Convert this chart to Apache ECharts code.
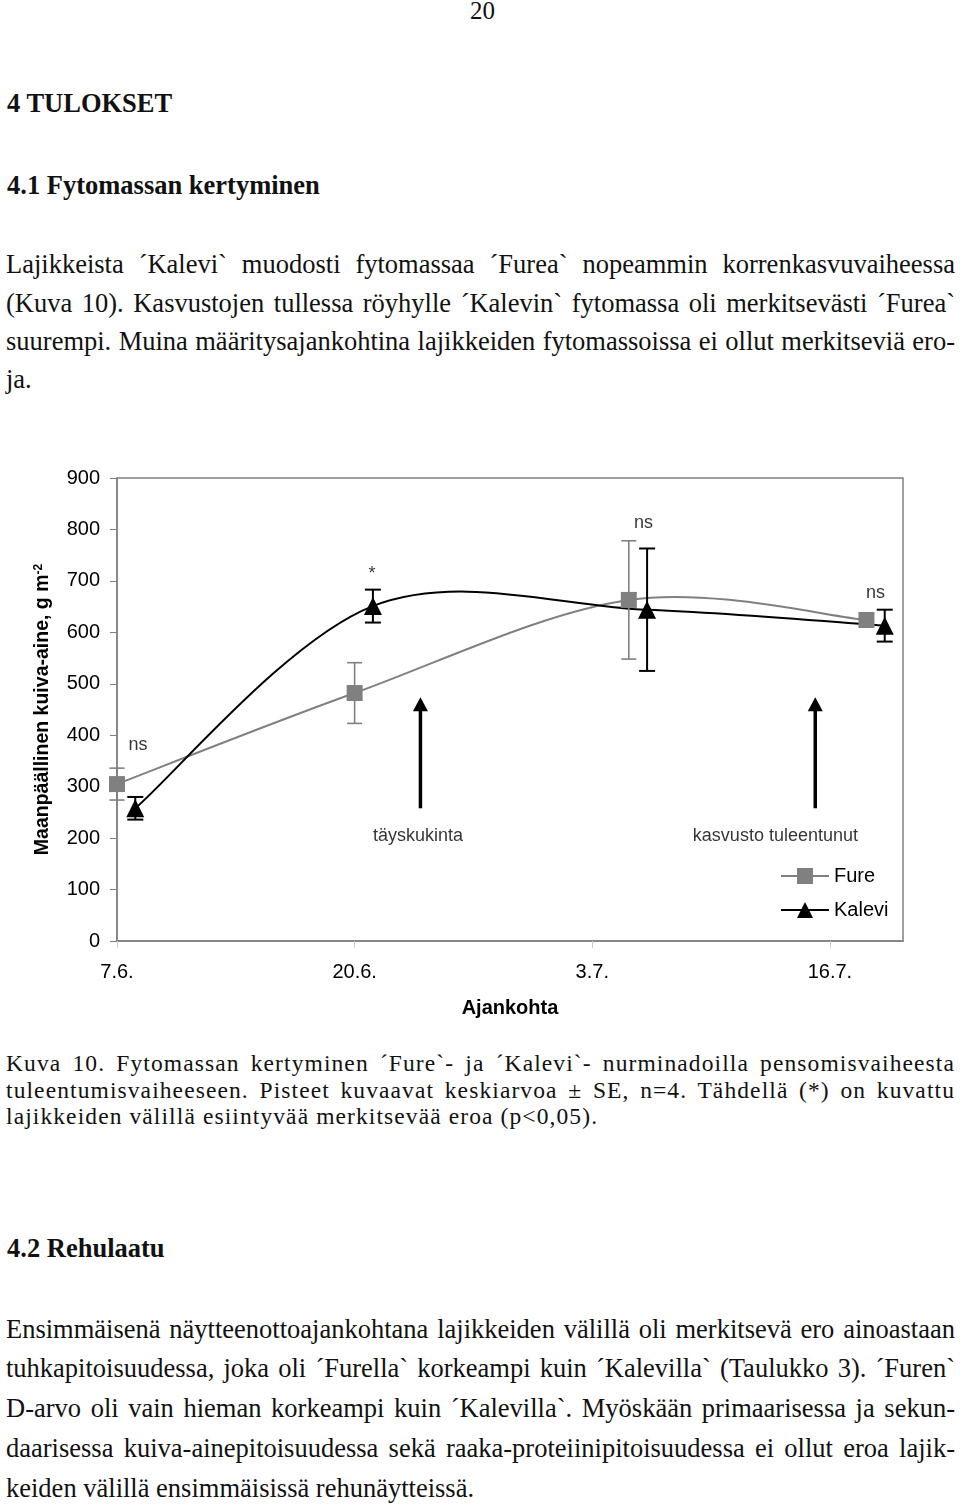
<!DOCTYPE html>
<html>
<head>
<meta charset="utf-8">
<script src="https://cdn.jsdelivr.net/npm/echarts@6/dist/echarts.min.js"></script>
<style>
  html, body { margin: 0; padding: 0; background: #fff; }
  body { width: 960px; height: 1506px; position: relative; overflow: hidden; color: #111; }
  #chart { position: absolute; left: 0; top: 440px; width: 960px; height: 600px; }
</style>
</head>
<body>
<div id="chart"></div>
<script>
// ---------------- data ----------------
const tickDays   = [0, 13, 26, 39];
const tickLabels = ['7.6.', '20.6.', '3.7.', '16.7.'];

const fureDays   = [0, 13, 28, 41];
const fureMean   = [305, 482, 663, 624];
const fureSE     = [31, 59, 115, 8];

const kaleviDays = [1, 14, 29, 42];
const kaleviMean = [258, 651, 644, 613];
const kaleviSE   = [22, 32, 119, 31];

const noteX    = [1.15, 13.95, 28.8, 41.5, 16.47, 36.02];
const noteY    = [381, 713, 812, 676, 204, 204];
const noteText = ['ns', '*', 'ns', 'ns', 'täyskukinta', 'kasvusto tuleentunut'];

const arrowDays = [16.6, 38.2];
const arrowFrom = [258, 258];
const arrowTo   = [474, 474];

// ---------------- document text ----------------
const SERIF = '"Liberation Serif", "Times New Roman", serif';
const SANS = '"Liberation Sans", Arial, sans-serif';

function placeLine(text, o) {
  const d = document.createElement('div');
  d.textContent = text;
  Object.assign(d.style, {
    position: 'absolute', left: o.left + 'px',
    top: (o.baseline - 0.8375 * o.fs) + 'px',
    fontSize: o.fs + 'px', lineHeight: o.fs + 'px',
    fontWeight: o.bold ? 'bold' : 'normal',
    whiteSpace: 'nowrap', letterSpacing: (o.ls || 0) + 'px',
    fontFamily: SERIF, color: '#111'
  });
  document.body.appendChild(d);
  if (o.width) {
    const nat = d.getBoundingClientRect().width;
    if (nat > o.width) {
      d.style.transformOrigin = '0 0';
      d.style.transform = 'scaleX(' + (o.width / nat) + ')';
    } else if (o.justify) {
      d.style.whiteSpace = 'normal';
      d.style.width = o.width + 'px';
      d.style.textAlign = 'justify';
      d.style.textAlignLast = 'justify';
    }
  }
}

placeLine('20', {left: 470, baseline: 19, fs: 25});
placeLine('4 TULOKSET', {left: 7, baseline: 112, fs: 26.5, bold: true});
placeLine('4.1 Fytomassan kertyminen', {left: 7, baseline: 194, fs: 26.5, bold: true});

const p1 = [
  'Lajikkeista ´Kalevi` muodosti fytomassaa ´Furea` nopeammin korrenkasvuvaiheessa',
  '(Kuva 10). Kasvustojen tullessa röyhylle ´Kalevin` fytomassa oli merkitsevästi ´Furea`',
  'suurempi. Muina määritysajankohtina lajikkeiden fytomassoissa ei ollut merkitseviä ero-',
  'ja.'
];
const p1Base = [273.3, 311.7, 350, 388.3];
p1.forEach((t, i) => placeLine(t, {left: 6, baseline: p1Base[i], fs: 26.5,
  width: 949, justify: i < p1.length - 1}));

const cap = [
  'Kuva 10. Fytomassan kertyminen ´Fure`- ja ´Kalevi`- nurminadoilla pensomisvaiheesta',
  'tuleentumisvaiheeseen. Pisteet kuvaavat keskiarvoa ± SE, n=4. Tähdellä (*) on kuvattu',
  'lajikkeiden välillä esiintyvää merkitsevää eroa (p<0,05).'
];
const capBase = [1071.7, 1098.3, 1125];
cap.forEach((t, i) => placeLine(t, {left: 6, baseline: capBase[i], fs: 23.5, ls: 1.1,
  width: i < 2 ? 949 : 606, justify: i < 2}));

placeLine('4.2 Rehulaatu', {left: 7, baseline: 1256.7, fs: 26.5, bold: true});

const p2 = [
  'Ensimmäisenä näytteenottoajankohtana lajikkeiden välillä oli merkitsevä ero ainoastaan',
  'tuhkapitoisuudessa, joka oli ´Furella` korkeampi kuin ´Kalevilla` (Taulukko 3). ´Furen`',
  'D-arvo oli vain hieman korkeampi kuin ´Kalevilla`. Myöskään primaarisessa ja sekun-',
  'daarisessa kuiva-ainepitoisuudessa sekä raaka-proteiinipitoisuudessa ei ollut eroa lajik-',
  'keiden välillä ensimmäisissä rehunäytteissä.'
];
const p2Base = [1338.3, 1376.7, 1416.7, 1456.7, 1496.7];
p2.forEach((t, i) => placeLine(t, {left: 6, baseline: p2Base[i], fs: 26.5,
  width: i < p2.length - 1 ? 949 : 475, justify: i < p2.length - 1}));

// ---------------- chart ----------------
const chart = echarts.init(document.getElementById('chart'), null, {renderer: 'canvas'});

function zip3(a, b, c) { return a.map((v, i) => [v, b[i], c[i]]); }

function errRender(color, capW, lw) {
  return function (params, api) {
    const x = api.value(0), y = api.value(1), e = api.value(2);
    const t = api.coord([x, y + e]), b = api.coord([x, y - e]);
    const h = capW / 2;
    const st = {stroke: color, lineWidth: lw};
    return {type: 'group', children: [
      {type: 'line', shape: {x1: t[0], y1: t[1], x2: b[0], y2: b[1]}, style: st},
      {type: 'line', shape: {x1: t[0] - h, y1: t[1], x2: t[0] + h, y2: t[1]}, style: st},
      {type: 'line', shape: {x1: b[0] - h, y1: b[1], x2: b[0] + h, y2: b[1]}, style: st}
    ]};
  };
}

// Spreadsheet-style smoothed line (Catmull-Rom Bezier, tension 1/6), one segment per point
function curveRender(days, vals, color, lw) {
  return function (params, api) {
    const i = params.dataIndex, n = days.length;
    if (i >= n - 1) return null;
    const P = j => api.coord([days[Math.max(0, Math.min(n - 1, j))], vals[Math.max(0, Math.min(n - 1, j))]]);
    const p0 = P(i - 1), p1 = P(i), p2 = P(i + 1), p3 = P(i + 2);
    const k = 1 / 6;
    return {
      type: 'bezierCurve',
      shape: {
        x1: p1[0], y1: p1[1], x2: p2[0], y2: p2[1],
        cpx1: p1[0] + (p2[0] - p0[0]) * k, cpy1: p1[1] + (p2[1] - p0[1]) * k,
        cpx2: p2[0] - (p3[0] - p1[0]) * k, cpy2: p2[1] - (p3[1] - p1[1]) * k
      },
      style: {stroke: color, lineWidth: lw, fill: null}
    };
  };
}

const axisGray = '#808080';

chart.setOption({
  animation: false,
  textStyle: {fontFamily: SANS},
  grid: {left: 117, right: 57, top: 38, bottom: 99, show: true,
         borderColor: axisGray, borderWidth: 1.5, backgroundColor: 'transparent'},
  legend: {
    data: [
      {name: 'Fure', lineStyle: {opacity: 1, width: 2, color: axisGray}},
      {name: 'Kalevi', lineStyle: {opacity: 1, width: 2, color: '#000'}}
    ],
    orient: 'vertical', left: 775, top: 421,
    itemWidth: 48, itemHeight: 20, itemGap: 14,
    textStyle: {fontSize: 20, color: '#000', fontFamily: SANS}
  },
  xAxis: {
    type: 'value', min: 0, max: 43, interval: 13,
    name: 'Ajankohta', nameLocation: 'middle', nameGap: 57,
    nameTextStyle: {fontSize: 20, fontWeight: 'bold', color: '#000', fontFamily: SANS},
    axisLine: {show: true, lineStyle: {color: axisGray, width: 1.5}},
    axisTick: {show: true, length: 7, lineStyle: {color: '#c8c8c8', width: 1}, customValues: tickDays},
    axisLabel: {fontSize: 20, color: '#000', margin: 21, fontFamily: SANS,
      customValues: tickDays,
      formatter: v => { const i = tickDays.indexOf(v); return i >= 0 ? tickLabels[i] : ''; }},
    splitLine: {show: false}
  },
  yAxis: {
    type: 'value', min: 0, max: 900, interval: 100,
    name: 'Maanpäällinen kuiva-aine, g m{s|-2}', nameLocation: 'middle', nameGap: 64, nameRotate: 90,
    nameTextStyle: {fontSize: 19.5, fontWeight: 'bold', color: '#000', fontFamily: SANS,
      rich: {s: {fontSize: 12, fontWeight: 'bold', color: '#000', verticalAlign: 'top', fontFamily: SANS}}},
    axisLine: {show: true, lineStyle: {color: axisGray, width: 1.5}},
    axisTick: {show: true, length: 7, lineStyle: {color: axisGray, width: 1}},
    axisLabel: {fontSize: 20, color: '#000', margin: 17, fontFamily: SANS},
    splitLine: {show: false}
  },
  series: [
    {
      name: 'FureCurve', type: 'custom', z: 2, silent: true,
      data: fureDays.map((d, i) => [d, fureMean[i]]),
      encode: {x: 0, y: 1},
      renderItem: curveRender(fureDays, fureMean, axisGray, 2)
    },
    {
      name: 'KaleviCurve', type: 'custom', z: 2, silent: true,
      data: kaleviDays.map((d, i) => [d, kaleviMean[i]]),
      encode: {x: 0, y: 1},
      renderItem: curveRender(kaleviDays, kaleviMean, '#000', 2)
    },
    {
      name: 'Fure', type: 'line', z: 4,
      data: fureDays.map((d, i) => [d, fureMean[i]]),
      symbol: 'rect', symbolSize: 16,
      lineStyle: {color: axisGray, width: 2, opacity: 0},
      itemStyle: {color: axisGray}
    },
    {
      name: 'Kalevi', type: 'line', z: 5,
      data: kaleviDays.map((d, i) => [d, kaleviMean[i]]),
      symbol: 'triangle', symbolSize: [18, 18],
      lineStyle: {color: '#000', width: 2, opacity: 0},
      itemStyle: {color: '#000'}
    },
    {
      name: 'FureErr', type: 'custom', z: 3, silent: true,
      data: zip3(fureDays, fureMean, fureSE),
      encode: {x: 0, y: 1},
      renderItem: errRender(axisGray, 15, 1.6)
    },
    {
      name: 'KaleviErr', type: 'custom', z: 3, silent: true,
      data: zip3(kaleviDays, kaleviMean, kaleviSE),
      encode: {x: 0, y: 1},
      renderItem: errRender('#000', 16, 2)
    },
    {
      name: 'Arrows', type: 'custom', z: 3, silent: true,
      data: zip3(arrowDays, arrowFrom, arrowTo),
      encode: {x: 0, y: [1, 2]},
      renderItem: function (params, api) {
        const x = api.value(0);
        const b = api.coord([x, api.value(1)]), t = api.coord([x, api.value(2)]);
        const hh = 14, hw = 7.5;
        return {type: 'group', children: [
          {type: 'line', shape: {x1: b[0], y1: b[1], x2: t[0], y2: t[1] + hh - 1},
           style: {stroke: '#000', lineWidth: 3.5}},
          {type: 'polygon', shape: {points: [[t[0], t[1]], [t[0] - hw, t[1] + hh], [t[0] + hw, t[1] + hh]]},
           style: {fill: '#000'}}
        ]};
      }
    },
    {
      name: 'Notes', type: 'scatter', z: 6, silent: true,
      symbolSize: 0,
      data: noteX.map((x, i) => ({value: [x, noteY[i]],
        label: {formatter: noteText[i]}})),
      label: {show: true, position: 'inside', fontSize: 18, color: '#000', fontFamily: SANS}
    }
  ]
});
</script>
</body>
</html>
